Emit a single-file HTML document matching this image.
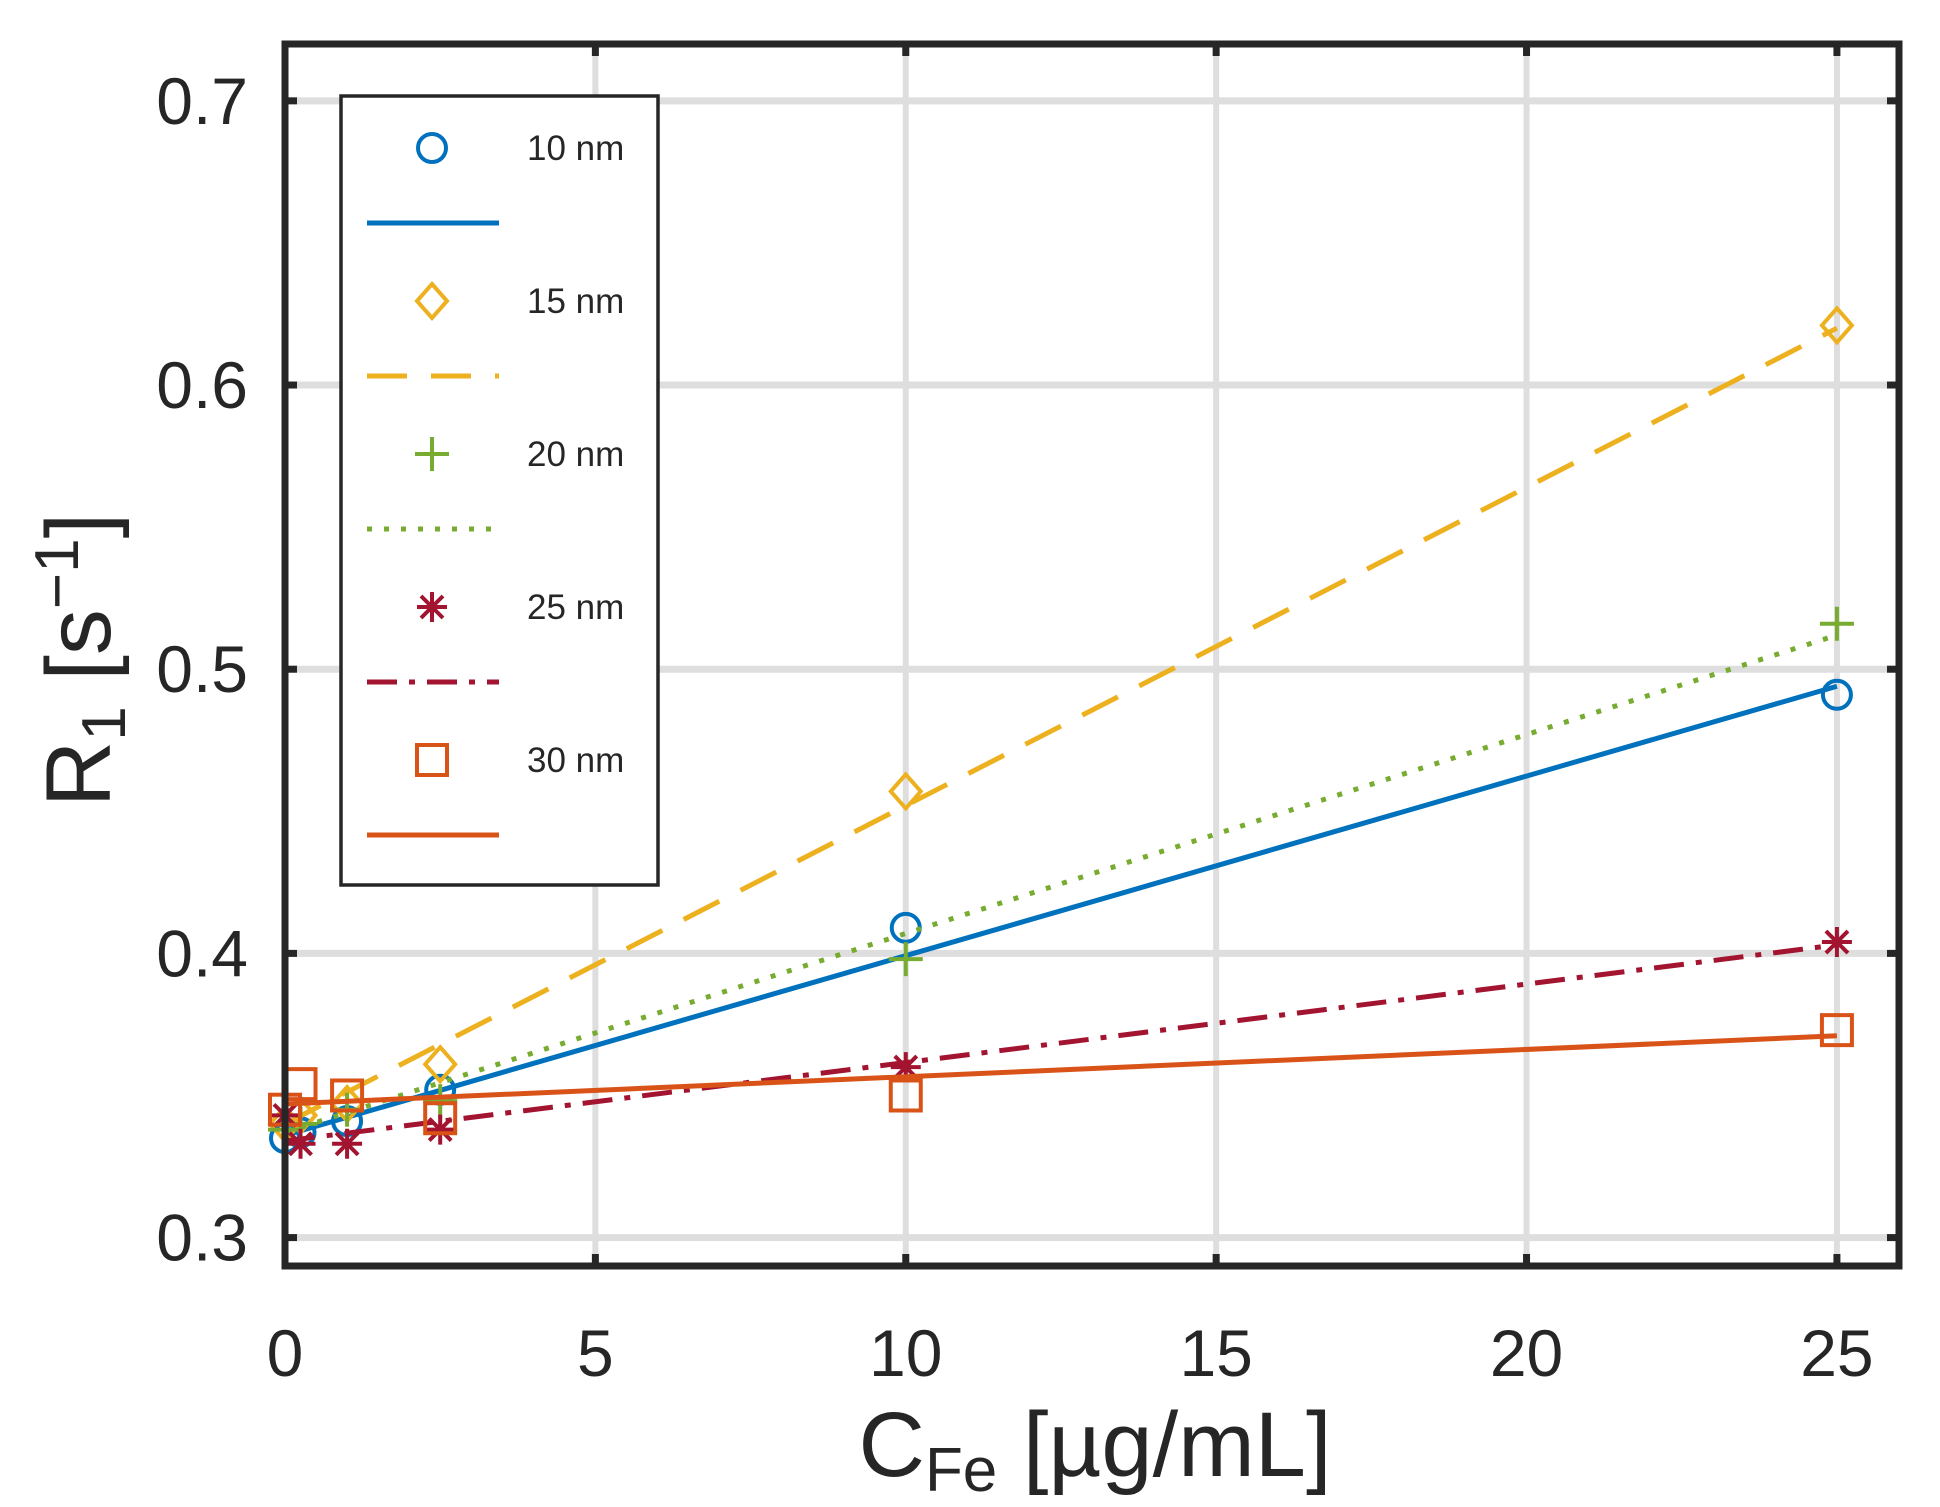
<!DOCTYPE html>
<html><head><meta charset="utf-8"><style>
body{margin:0;background:#fff}
svg{display:block}
text{font-family:"Liberation Sans",sans-serif;fill:#262626}
</style></head><body>
<svg id="chart" width="1940" height="1507" viewBox="0 0 1940 1507" xmlns="http://www.w3.org/2000/svg">
<g id="grid"></g>
<g id="series"></g>
<g id="axes"></g>
<g id="legend"></g>
</svg>
<script>
const xValues=[0,0.25,1,2.5,10,25];
const s10=[0.335,0.337,0.341,0.352,0.409,0.491];
const s15=[0.340,0.343,0.347,0.361,0.457,0.621];
const s20=[0.338,0.340,0.345,0.348,0.398,0.516];
const s25=[0.343,0.333,0.333,0.338,0.360,0.404];
const s30=[0.345,0.354,0.350,0.342,0.350,0.373];
const fit10=[0.336,0.494];
const fit15=[0.340,0.620];
const fit20=[0.337,0.512];
const fit25=[0.334,0.403];
const fit30=[0.347,0.371];
const fitX=[0,25];
const xTicks=[0,5,10,15,20,25];
const yTicks=[0.3,0.4,0.5,0.6,0.7];
const seriesNames=["10 nm","15 nm","20 nm","25 nm","30 nm"];

const L=285,R=1899,T=44,B=1266;
const xMin=0,xMax=26,yMin=0.29,yMax=0.72;
const X=v=>L+(v-xMin)/(xMax-xMin)*(R-L);
const Y=v=>B-(v-yMin)/(yMax-yMin)*(B-T);
const NS="http://www.w3.org/2000/svg";
function mk(tag,attrs,parent){const e=document.createElementNS(NS,tag);for(const k in attrs)e.setAttribute(k,attrs[k]);parent.appendChild(e);return e;}
const grid=document.getElementById('grid'),ser=document.getElementById('series'),axes=document.getElementById('axes'),leg=document.getElementById('legend');

mk('rect',{x:L,y:T,width:R-L,height:B-T,fill:'#fff'},grid);
xTicks.forEach(t=>{const l=mk('line',{x1:X(t),x2:X(t),y1:T,y2:B,stroke:'#dedede','stroke-width':6},grid);
});
yTicks.forEach(t=>{const l=mk('line',{x1:L,x2:R,y1:Y(t),y2:Y(t),stroke:'#dedede','stroke-width':7},grid);
});

const cfg=[
 {d:s10,f:fit10,c:'#0072BD',m:'circle',dash:''},
 {d:s15,f:fit15,c:'#EDB120',m:'diamond',dash:'40 24'},
 {d:s20,f:fit20,c:'#77AC30',m:'plus',dash:'5 12'},
 {d:s25,f:fit25,c:'#A2142F',m:'star',dash:'30 12 6 12'},
 {d:s30,f:fit30,c:'#D95319',m:'square',dash:''}
];
function marker(type,cx,cy,c,p){
 const sw=4;let e;
 if(type==='circle')e=mk('circle',{cx,cy,r:14,fill:'none',stroke:c,'stroke-width':sw},p);
 else if(type==='diamond')e=mk('path',{d:`M${cx},${cy-17}L${cx+15},${cy}L${cx},${cy+17}L${cx-15},${cy}Z`,fill:'none',stroke:c,'stroke-width':sw},p);
 else if(type==='plus')e=mk('path',{d:`M${cx-17},${cy}H${cx+17}M${cx},${cy-17}V${cy+17}`,fill:'none',stroke:c,'stroke-width':sw},p);
 else if(type==='star')e=mk('path',{d:`M${cx-15},${cy}H${cx+15}M${cx},${cy-15}V${cy+15}M${cx-11},${cy-11}L${cx+11},${cy+11}M${cx-11},${cy+11}L${cx+11},${cy-11}`,fill:'none',stroke:c,'stroke-width':sw},p);
 else e=mk('rect',{x:cx-15,y:cy-15,width:30,height:30,fill:'none',stroke:c,'stroke-width':sw},p);
 return e;
}
cfg.forEach((s,i)=>{
 const ln=mk('line',{x1:X(fitX[0]),y1:Y(s.f[0]),x2:X(fitX[1]),y2:Y(s.f[1]),stroke:s.c,'stroke-width':5,'stroke-dasharray':s.dash},ser);
 
 
 s.d.forEach((v,j)=>{const m=marker(s.m,X(xValues[j]),Y(v),s.c,ser);
  
  });
});

mk('rect',{x:L,y:T,width:R-L,height:B-T,fill:'none',stroke:'#262626','stroke-width':7},axes);
xTicks.forEach(t=>{mk('line',{x1:X(t),x2:X(t),y1:B,y2:B-12,stroke:'#262626','stroke-width':7},axes);mk('line',{x1:X(t),x2:X(t),y1:T,y2:T+12,stroke:'#262626','stroke-width':7},axes);
 const tx=mk('text',{x:X(t),y:1376,'font-size':66,'text-anchor':'middle'},axes);tx.textContent=t;
 });
yTicks.forEach(t=>{mk('line',{x1:L,x2:L+12,y1:Y(t),y2:Y(t),stroke:'#262626','stroke-width':7},axes);mk('line',{x1:R,x2:R-12,y1:Y(t),y2:Y(t),stroke:'#262626','stroke-width':7},axes);
 const tx=mk('text',{x:248,y:Y(t)+23,'font-size':66,'text-anchor':'end'},axes);tx.textContent=t.toFixed(1);
 });
</script>
<script>
(function(){
 const ax=document.getElementById('axes');
 const xl=document.createElementNS("http://www.w3.org/2000/svg",'text');
 xl.setAttribute('x','1095');xl.setAttribute('y','1476');xl.setAttribute('font-size','92');xl.setAttribute('text-anchor','middle');
 xl.innerHTML='C<tspan font-size="62" dy="15">Fe</tspan><tspan dy="-15"> [µg/mL]</tspan>';
 
 
 ax.appendChild(xl);
 const yl=document.createElementNS("http://www.w3.org/2000/svg",'text');
 yl.setAttribute('transform','translate(110,660) rotate(-90)');yl.setAttribute('font-size','92');yl.setAttribute('text-anchor','middle');
 yl.innerHTML='R<tspan font-size="62" dy="15">1</tspan><tspan dy="-15"> [s</tspan><tspan font-size="62" dy="-32">−1</tspan><tspan dy="32">]</tspan>';
 
 
 ax.appendChild(yl);
 const lg=document.getElementById('legend');
 const NS="http://www.w3.org/2000/svg";
 function mk(tag,a,p){const e=document.createElementNS(NS,tag);for(const k in a)e.setAttribute(k,a[k]);p.appendChild(e);return e;}
 mk('rect',{x:341,y:96,width:317,height:789,fill:'#fff',stroke:'#262626','stroke-width':3.5},lg);
 const cols=['#0072BD','#EDB120','#77AC30','#A2142F','#D95319'];
 const types=['circle','diamond','plus','star','square'];
 const dashes=['','40 24','5 12','30 12 6 12',''];
 const names=["10 nm","15 nm","20 nm","25 nm","30 nm"];
 for(let i=0;i<5;i++){
  const my=148+i*153, ly=223+i*153, cx=432, c=cols[i];
  let m;
  if(types[i]==='circle')m=mk('circle',{cx,cy:my,r:14,fill:'none',stroke:c,'stroke-width':4},lg);
  else if(types[i]==='diamond')m=mk('path',{d:`M${cx},${my-17}L${cx+15},${my}L${cx},${my+17}L${cx-15},${my}Z`,fill:'none',stroke:c,'stroke-width':4},lg);
  else if(types[i]==='plus')m=mk('path',{d:`M${cx-17},${my}H${cx+17}M${cx},${my-17}V${my+17}`,fill:'none',stroke:c,'stroke-width':4},lg);
  else if(types[i]==='star')m=mk('path',{d:`M${cx-15},${my}H${cx+15}M${cx},${my-15}V${my+15}M${cx-11},${my-11}L${cx+11},${my+11}M${cx-11},${my+11}L${cx+11},${my-11}`,fill:'none',stroke:c,'stroke-width':4},lg);
  else m=mk('rect',{x:cx-15,y:my-15,width:30,height:30,fill:'none',stroke:c,'stroke-width':4},lg);
  
  
  const l=mk('line',{x1:367,x2:499,y1:ly,y2:ly,stroke:c,'stroke-width':5,'stroke-dasharray':dashes[i]},lg);
  
  
  const t=mk('text',{x:527,y:my+12,'font-size':35,fill:'#000'},lg);
  t.textContent=names[i];
  
  
 }
})();
</script>
</body></html>
